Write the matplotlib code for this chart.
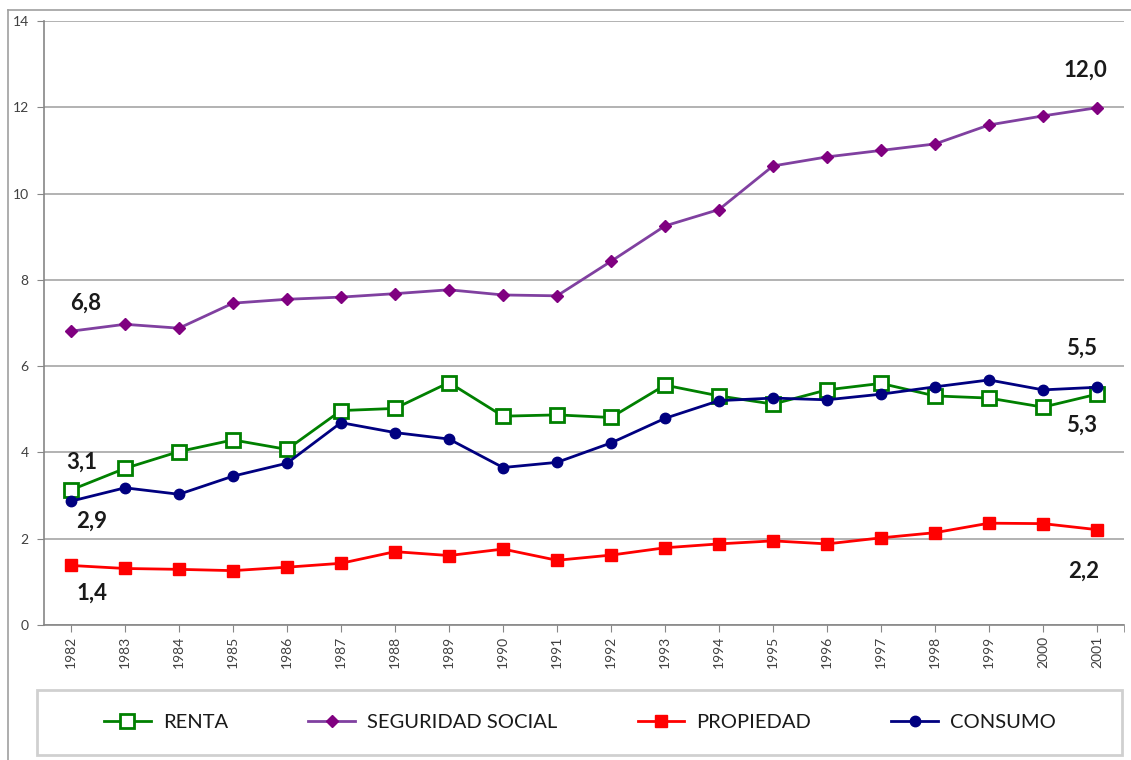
import matplotlib
matplotlib.use("Agg")
import matplotlib.pyplot as plt
from matplotlib.lines import Line2D
from matplotlib.patches import Rectangle

years = [str(y) for y in range(1982, 2002)]
renta = [3.13, 3.63, 4.02, 4.29, 4.07, 4.97, 5.02, 5.62, 4.84, 4.87,
         4.81, 5.56, 5.31, 5.12, 5.45, 5.60, 5.31, 5.26, 5.05, 5.35]
seguridad = [6.81, 6.97, 6.88, 7.46, 7.55, 7.60, 7.68, 7.77, 7.65, 7.63,
             8.43, 9.25, 9.63, 10.64, 10.85, 11.00, 11.15, 11.59, 11.80, 11.99]
propiedad = [1.38, 1.31, 1.29, 1.26, 1.34, 1.43, 1.70, 1.61, 1.76, 1.50,
             1.62, 1.79, 1.88, 1.95, 1.88, 2.02, 2.14, 2.36, 2.35, 2.21]
consumo = [2.87, 3.18, 3.03, 3.45, 3.75, 4.69, 4.46, 4.31, 3.65, 3.77,
           4.22, 4.79, 5.20, 5.26, 5.22, 5.35, 5.52, 5.68, 5.45, 5.51]
series_names = ["RENTA", "SEGURIDAD SOCIAL", "PROPIEDAD", "CONSUMO"]
yticks = [0, 2, 4, 6, 8, 10, 12, 14]

FONT = "Lato"
fig = plt.figure(figsize=(11.31, 7.60), dpi=100)
fig.patch.set_facecolor("white")
ax = fig.add_axes([44 / 1131, 1 - 625 / 760, (1124 - 44) / 1131, (625 - 21) / 760])

x = list(range(len(years)))
grid_c = "#a6a6a6"
ax_c = "#868686"

l1, = ax.plot(x, renta, color="#008000", lw=2, marker="s", markersize=10,
              markerfacecolor="white", markeredgecolor="#008000", markeredgewidth=2,
              label=series_names[0], zorder=4)
l2, = ax.plot(x, seguridad, color="#8040a0", lw=2, marker="D", markersize=6.5,
              markerfacecolor="#800080", markeredgecolor="#800080",
              label=series_names[1], zorder=4)
l3, = ax.plot(x, propiedad, color="#ff0000", lw=2, marker="s", markersize=8,
              markerfacecolor="#ff0000", markeredgecolor="#ff0000",
              label=series_names[2], zorder=4)
l4, = ax.plot(x, consumo, color="#000080", lw=2, marker="o", markersize=7.5,
              markerfacecolor="#000080", markeredgecolor="#000080",
              label=series_names[3], zorder=5)

ax.set_xlim(-0.5, len(years) - 0.5)
ax.set_ylim(0, 14)
ax.set_yticks(yticks)
ax.set_yticklabels([str(v) for v in yticks], fontsize=10, color="#404040", family=FONT)
ax.set_xticks(x)
ax.set_xticklabels(years, rotation=90, fontsize=10, color="#404040", family=FONT)
ax.set_xticks([len(years) - 0.5], minor=True)
ax.tick_params(axis="x", which="both", length=5, color=ax_c, pad=3)
ax.tick_params(axis="y", length=5, color=ax_c, pad=6)
ax.yaxis.grid(True, color=grid_c, lw=1.2)
ax.set_axisbelow(True)
for s in ["top", "right"]:
    ax.spines[s].set_visible(False)
for s in ["left", "bottom"]:
    ax.spines[s].set_color(ax_c)
    ax.spines[s].set_linewidth(1.2)

def fmt(v):
    return f"{v:.1f}".replace(".", ",")

def lab(xi, yv, dx, dy):
    ax.annotate(fmt(yv), (xi, yv), xytext=(dx, -dy), textcoords="offset pixels",
                ha="center", va="center", fontsize=16, fontweight="bold",
                family=FONT, color="#1a1a1a", annotation_clip=False)

n = len(years) - 1
lab(0, seguridad[0], 15, -28)
lab(n, seguridad[n], -12, -38)
lab(n, consumo[n], -15, -39)
lab(n, renta[n], -15, 31)
lab(0, renta[0], 11, -28)
lab(0, consumo[0], 21, 20)
lab(0, propiedad[0], 21, 28)
lab(n, propiedad[n], -13, 42)

# outer chart frame (left and top edges visible)
fig.add_artist(Line2D([8 / 1131, 8 / 1131], [0, 1 - 10 / 760], transform=fig.transFigure,
                      color="#a0a0a0", lw=1.2))
fig.add_artist(Line2D([8 / 1131, 1], [1 - 10 / 760, 1 - 10 / 760], transform=fig.transFigure,
                      color="#a0a0a0", lw=1.2))

# legend box
fig.add_artist(Rectangle((37 / 1131, 1 - 755 / 760), (1122 - 37) / 1131, (755 - 690) / 760,
                         transform=fig.transFigure, facecolor="white",
                         edgecolor="#d0d0d0", lw=2))
leg = fig.legend(handles=[l1, l2, l3, l4], loc="center",
                 bbox_to_anchor=(580 / 1131, 1 - 722 / 760), ncol=4, frameon=False,
                 prop={"family": FONT, "size": 14.5}, handlelength=2.3,
                 handletextpad=0.6, columnspacing=4.0)
for t in leg.get_texts():
    t.set_color("#1a1a1a")

fig.savefig("out.png", dpi=100, facecolor="white")
